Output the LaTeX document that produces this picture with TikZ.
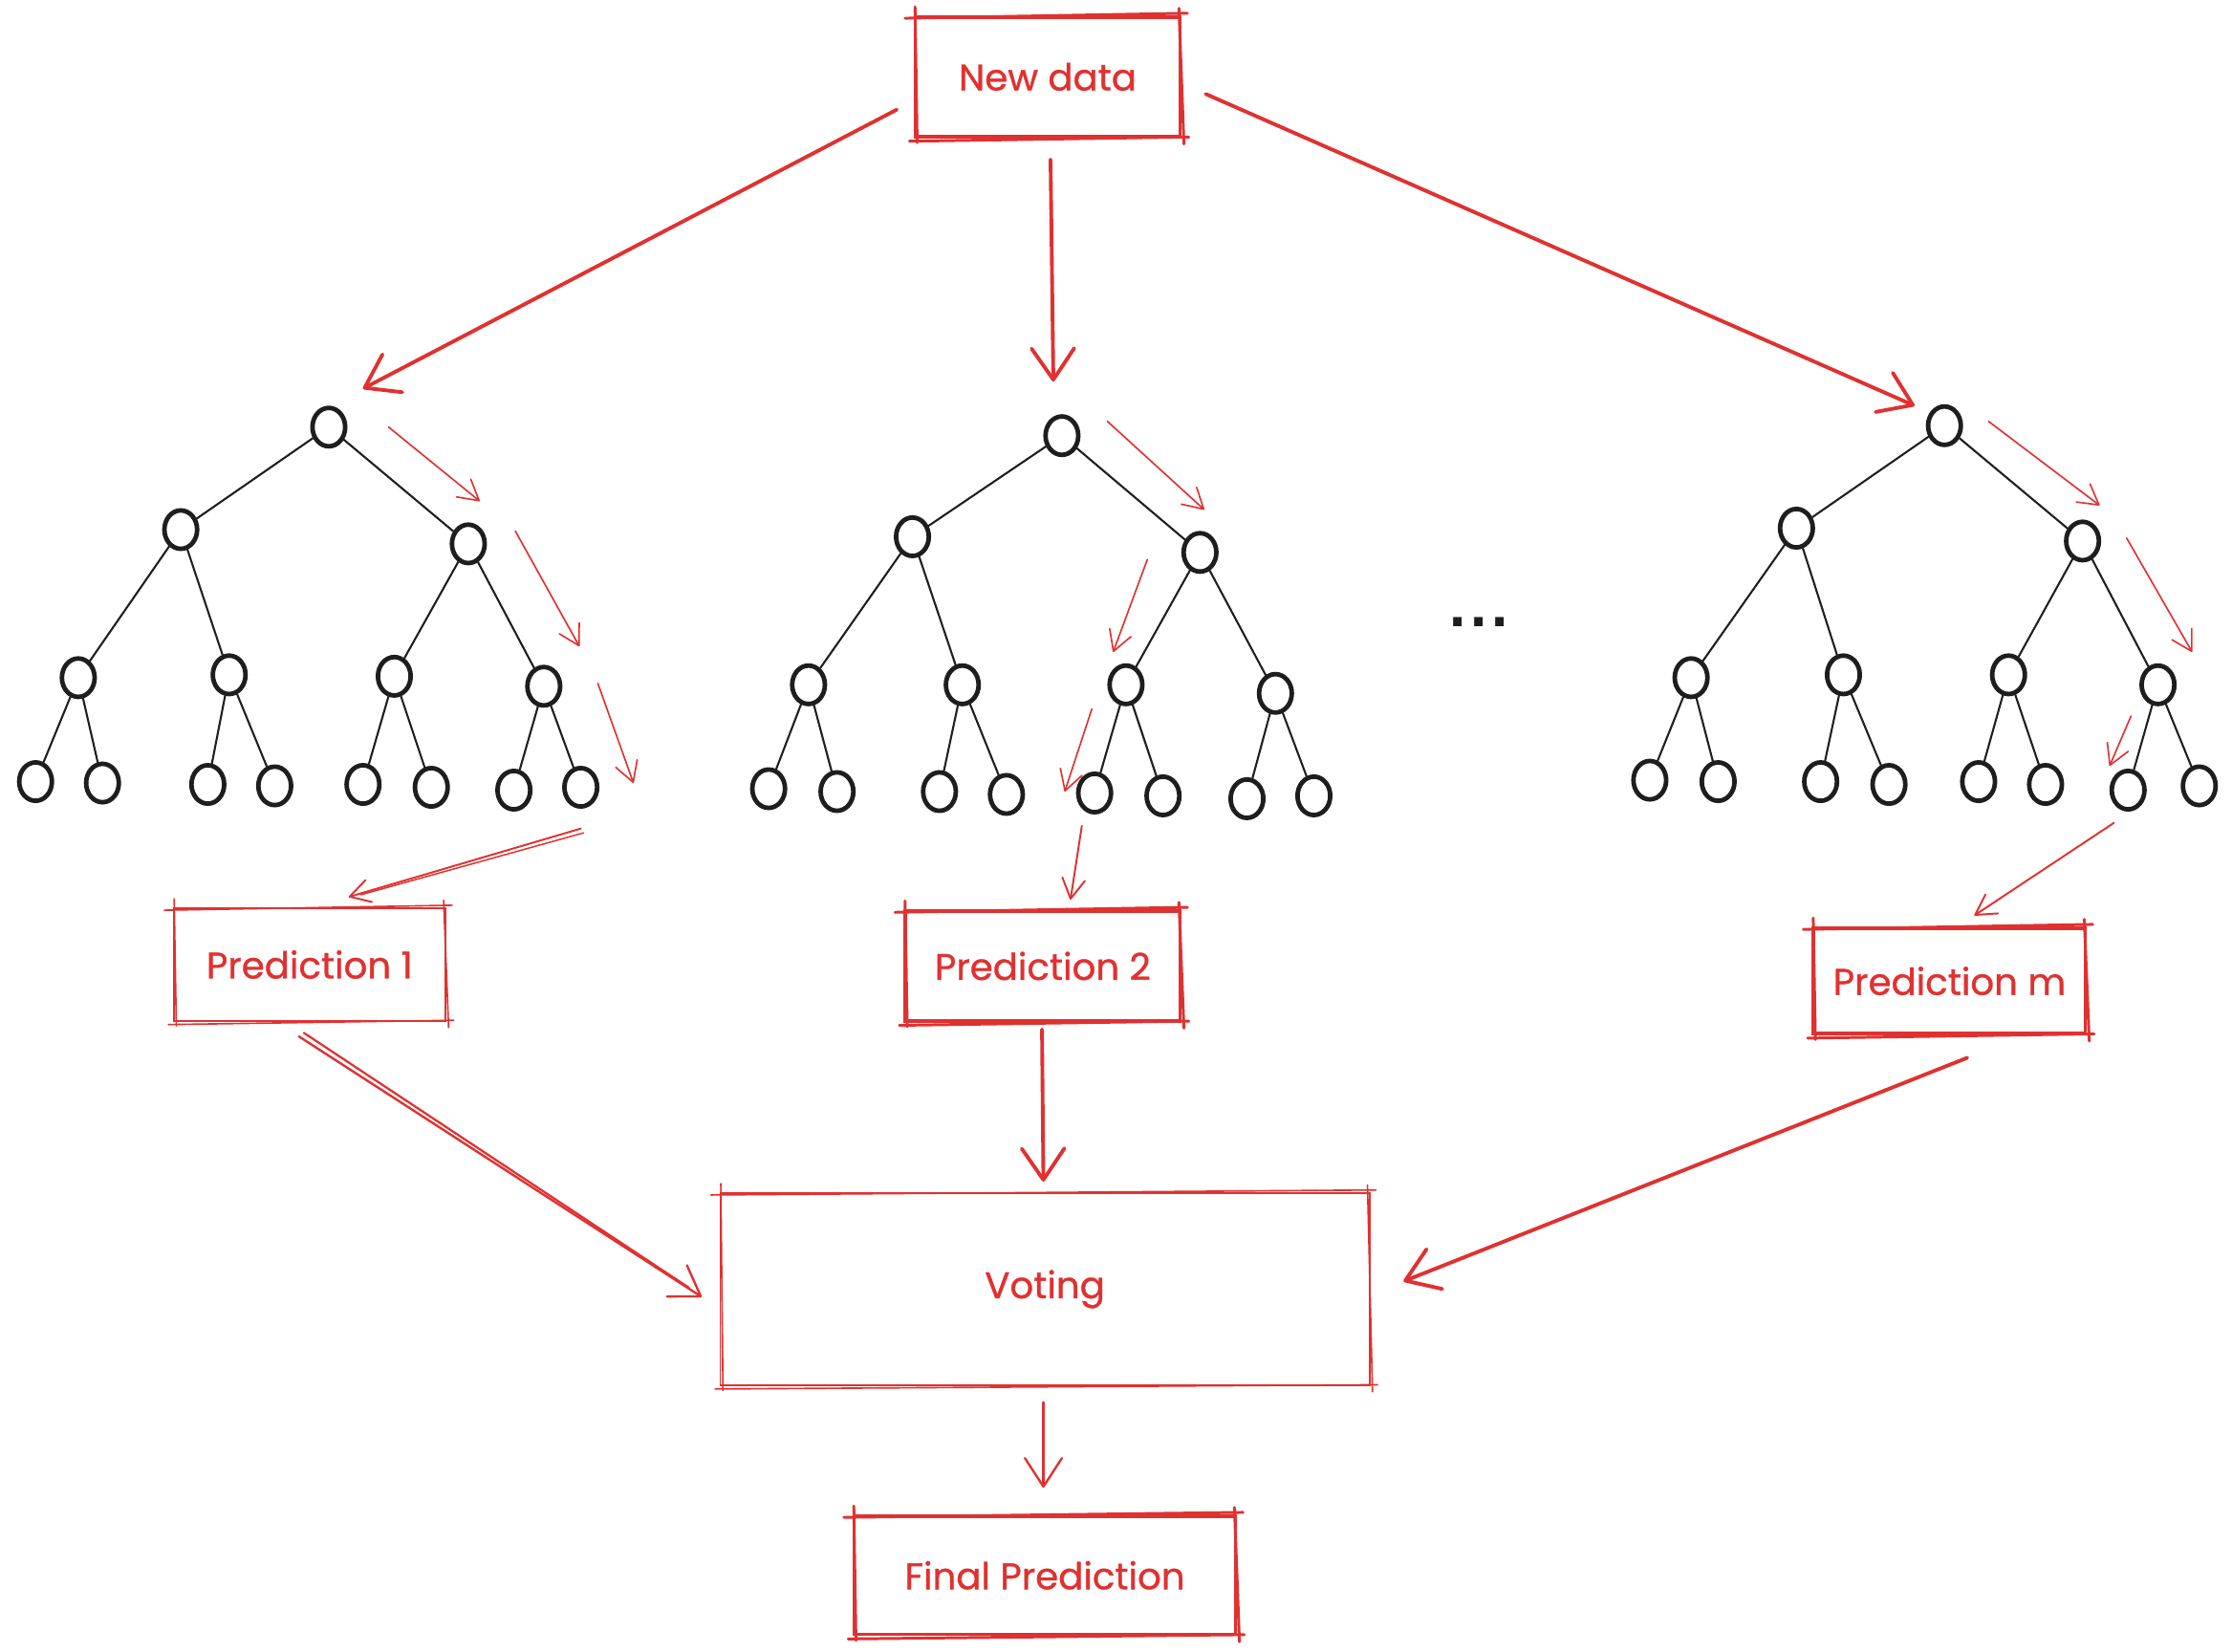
\documentclass[tikz,border=0pt]{standalone}
\usepackage{fontspec}
\setmainfont{Poppins}
\newfontfamily\handfont{Poppins}[FakeBold=0.9]
\newfontfamily\dotfont{DejaVu Sans}
\usetikzlibrary{arrows.meta,shapes.geometric,calc}
\definecolor{inkred}{HTML}{E03131}
\definecolor{ink}{HTML}{1E1E1E}

\tikzset{
  treenode/.style={ellipse, draw=ink, line width=3.2pt, fill=white,
    minimum width=23pt, minimum height=27pt, inner sep=0pt},
  branch/.style={draw=ink, line width=1.4pt, line cap=round},
  box/.style={draw=inkred, text=inkred, inner sep=0pt,
    font=\handfont\fontsize{26}{30}\selectfont},
  boldbox/.style={box, line width=2.4pt},
  thinbox/.style={box, line width=1.3pt},
  roughline/.style={draw=inkred, line cap=round},
  bigarrow/.style={draw=inkred, line width=2.6pt, line cap=round,
    -{Straight Barb[length=22pt,width=30pt,round]}},
  midarrow/.style={draw=inkred, line width=1.6pt, line cap=round,
    -{Straight Barb[length=20pt,width=26pt,round]}},
  pathhint/.style={draw=inkred, line width=1.1pt, line cap=round,
    -{Straight Barb[length=14pt,width=16pt,round]}},
}

% second, slightly skewed outline over a box, for a hand-drawn look
\newcommand\roughbox[2]{%
  \draw[roughline,#2] ($(#1.north west)+(-6,2)$) -- ($(#1.north east)+(4,-1.5)$);
  \draw[roughline,#2] ($(#1.north east)+(-2,-5)$) -- ($(#1.south east)+(1.5,4)$);
  \draw[roughline,#2] ($(#1.south east)+(5,-1)$) -- ($(#1.south west)+(-3,2)$);
  \draw[roughline,#2] ($(#1.south west)+(2.5,3)$) -- ($(#1.north west)+(1,-6)$);
}

\begin{document}
\begin{tikzpicture}[x=1pt,y=-1pt]
\useasboundingbox (0,0) rectangle (1568,1160);

% ---------- boxes ----------
\node[boldbox, minimum width=186pt, minimum height=84pt] (nd) at (736,54) {New data};
\node[thinbox, minimum width=191pt, minimum height=79pt] (p1) at (217.5,677.5) {Prediction 1};
\node[boldbox, minimum width=193pt, minimum height=77pt] (p2) at (732.5,678.5) {Prediction 2};
\node[boldbox, minimum width=191pt, minimum height=74pt] (pm) at (1369.5,689) {Prediction m};
\node[thinbox, minimum width=456pt, minimum height=135pt] (vote) at (734,905.5) {Voting};
\node[boldbox, minimum width=268pt, minimum height=83pt] (final) at (734,1106.5) {Final Prediction};

\roughbox{nd}{line width=2pt}
\roughbox{p1}{line width=1.1pt}
\roughbox{p2}{line width=2pt}
\roughbox{pm}{line width=2pt}
\roughbox{vote}{line width=1.1pt}
\roughbox{final}{line width=2pt}

% ---------- trees ----------
\foreach \n/\p in {r/{231,300}, a/{127,372}, b/{329,382},
    c/{55,476}, d/{161,474}, e/{277,475}, f/{382,482},
    1/{25,549}, 2/{72,550}, 3/{146,551}, 4/{193,552},
    5/{255,551}, 6/{303,553}, 7/{361,555}, 8/{408,553}}
  \node[treenode] (t1\n) at (\p) {};
\foreach \n/\p in {r/{746,306}, a/{641,377}, b/{843,388},
    c/{568,481}, d/{676,481}, e/{791,481}, f/{896,487},
    1/{540,554}, 2/{588,556}, 3/{660,556}, 4/{707,558},
    5/{769,557}, 6/{817,559}, 7/{876,561}, 8/{923,559}}
  \node[treenode] (t2\n) at (\p) {};
\foreach \n/\p in {r/{1366,299}, a/{1262,371}, b/{1463,380},
    c/{1188,476}, d/{1295,474}, e/{1411,474}, f/{1516,481},
    1/{1159,548}, 2/{1207,549}, 3/{1279,549}, 4/{1327,551},
    5/{1390,549}, 6/{1437,551}, 7/{1495,555}, 8/{1545,552}}
  \node[treenode] (t3\n) at (\p) {};

\foreach \t in {1,2,3} {
  \foreach \u/\v in {r/a, r/b, a/c, a/d, b/e, b/f,
      c/1, c/2, d/3, d/4, e/5, e/6, f/7, f/8}
    \draw[branch] (t\t\u) -- (t\t\v);
}

\node[font=\dotfont\bfseries\fontsize{34}{34}\selectfont, text=ink, inner sep=0pt]
  (more) at (1039,437) {.\hspace{2pt}.\hspace{2pt}.};

% ---------- decision paths through each tree ----------
\draw[pathhint] ($(t1r)+(42,0)$) -- ($(t1b)+(8,-30)$);
\draw[pathhint] ($(t1b)+(33,-9)$) -- ($(t1f)+(25,-28)$);
\draw[pathhint] ($(t1f)+(38,-2)$) -- ($(t18)+(37,-3)$);
\draw[pathhint, line width=1.3pt] ($(t18)+(0,29)$) -- ($(p1)+(27.5,-47.5)$);
\draw[roughline, line width=1pt] ($(t18)+(2,32)$) -- ($(p1)+(36,-49)$);

\draw[pathhint] ($(t2r)+(32,-10)$) -- ($(t2b)+(3,-30)$);
\draw[pathhint] ($(t2b)+(-37,5)$) -- ($(t2e)+(-9,-23)$);
\draw[pathhint] ($(t2e)+(-24,17)$) -- ($(t25)+(-21,-1)$);
\draw[pathhint, line width=1.3pt] ($(t25)+(-9,23)$) -- ($(p2)+(19.5,-46.5)$);

\draw[pathhint] ($(t3r)+(31,-3)$) -- ($(t3b)+(12,-25)$);
\draw[pathhint] ($(t3b)+(31,-2)$) -- ($(t3f)+(24,-23)$);
\draw[pathhint] ($(t3f)+(-19,22)$) -- ($(t37)+(-13,-17)$);
\draw[pathhint, line width=1.3pt] ($(t37)+(-10,23)$) -- ($(pm)+(17.5,-46)$);

% ---------- main flow ----------
\draw[bigarrow] ($(nd)+(-106,23)$) -- ($(t1r)+(24,-27)$);
\draw[bigarrow] ($(nd)+(2,58)$) -- ($(t2r)+(-6,-38)$);
\draw[bigarrow] ($(nd)+(111,12)$) -- ($(t3r)+(-21,-14)$);

\draw[midarrow] ($(p1)+(-7.5,50.5)$) -- ($(vote)+(-241,5.5)$);
\draw[roughline, line width=1.5pt] ($(p1)+(-4,48)$) -- ($(vote)+(-250,-1)$);
\draw[bigarrow] ($(p2)+(-0.5,44.5)$) -- ($(vote)+(-1,-75.5)$);
\draw[bigarrow] ($(pm)+(12.5,54)$) -- ($(vote)+(252,-5.5)$);
\draw[midarrow] ($(vote)+(-1,79.5)$) -- ($(final)+(-1,-61.5)$);
\end{tikzpicture}
\end{document}
